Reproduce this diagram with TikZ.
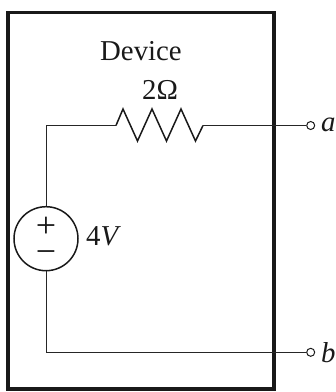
\documentclass[tikz,border=0pt]{standalone}
\usepackage{fontspec}
\setmainfont{Liberation Serif}
\tikzset{
  wire/.style={line width=1pt,black!85},
  part/.style={line width=1.5pt,black!90,line join=miter},
  terminal/.style={circle,draw=black!90,line width=1pt,fill=white,minimum size=8pt,inner sep=0pt},
  label/.style={inner sep=0pt,anchor=base west,font=\fontsize{28.8}{29}\selectfont,black!90},
  sign/.style={inner sep=0pt,align=center,font=\fontsize{36}{26}\selectfont,black!90}
}
\begin{document}
\begin{tikzpicture}[x=1pt,y=-1pt]
\useasboundingbox (0,0) rectangle (336,392);
\node[draw=black!90,line width=3.6pt,minimum width=265.5pt,minimum height=376.5pt,inner sep=0pt] (device) at (141,200.8) {};
\node[circle,part,draw,minimum size=64pt,inner sep=0pt] (src) at (46,238.7) {};
\node[terminal] (ta) at (310.7,125.5) {};
\node[terminal] (tb) at (310.7,352.3) {};
\coordinate (rl) at (116,125.5);
\coordinate (rr) at (203,125.5);
\coordinate (corner) at (46,125.5);
\draw[wire] (src.north) -- (corner) -- (rl);
\draw[part] (rl) -- ++(7,-16.5) -- ++(14.5,32) -- ++(14.5,-32) -- ++(14.5,32) -- ++(14.5,-32) -- ++(14.5,32) -- (rr);
\draw[wire] (rr) -- (ta.west);
\draw[wire] (src.south) |- (tb.west);
\node[label] (title) at (100,60) {Device};
\node[label] (rval) at (142,99) {2Ω};
\node[label] (vval) at (86,245) {4\textit{V}};
\node[label] (la) at (321,131.7) {\textit{a}};
\node[label] (lb) at (321,362) {\textit{b}};
\node[sign] (signs) at (46,240.5) {+\\−};
\end{tikzpicture}
\end{document}
